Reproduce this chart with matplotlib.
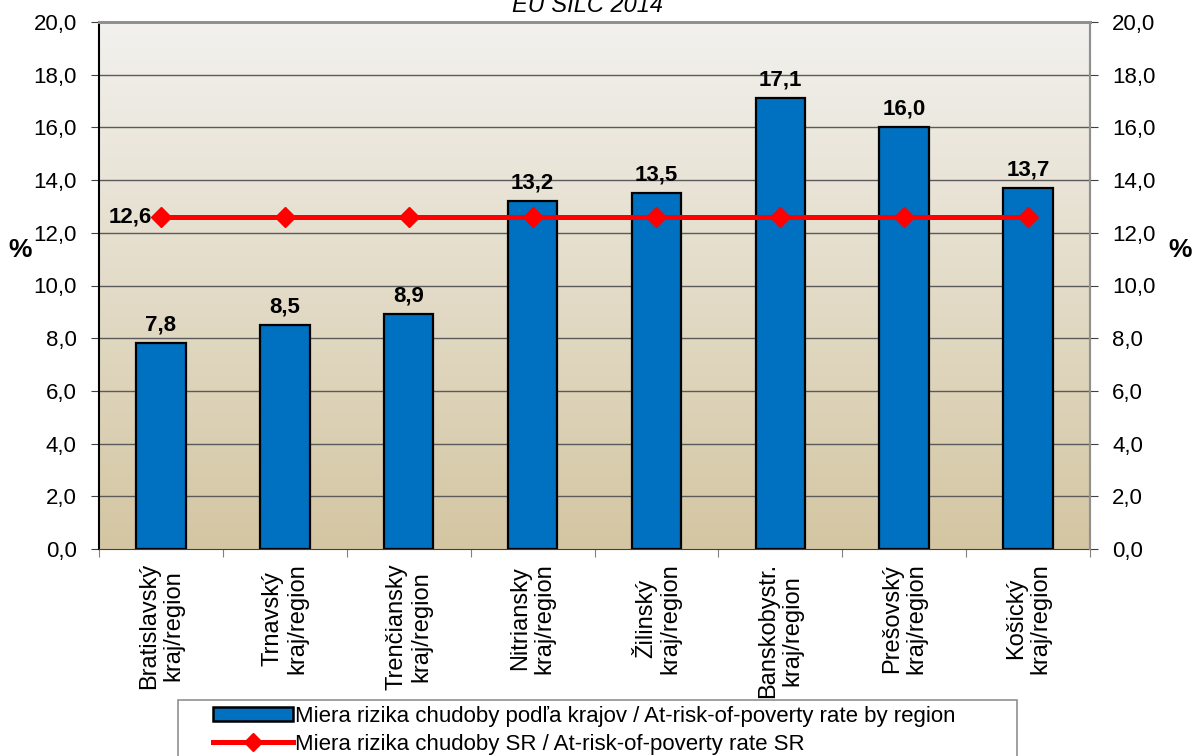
import matplotlib.pyplot as plt
import numpy as np
from matplotlib.patches import Patch, Rectangle
from matplotlib.lines import Line2D

plt.rcParams['font.family'] = ['Liberation Sans', 'DejaVu Sans']

regions = ["Bratislavský\nkraj/region", "Trnavský\nkraj/region", "Trenčiansky\nkraj/region",
           "Nitriansky\nkraj/region", "Žilinský\nkraj/region", "Banskobystr.\nkraj/region",
           "Prešovský\nkraj/region", "Košický\nkraj/region"]
rate_region = [7.8, 8.5, 8.9, 13.2, 13.5, 17.1, 16.0, 13.7]
rate_sr = [12.6, 12.6, 12.6, 12.6, 12.6, 12.6, 12.6, 12.6]
y_ticks = [0, 2, 4, 6, 8, 10, 12, 14, 16, 18, 20]

bar_label = "Miera rizika chudoby podľa krajov / At-risk-of-poverty rate by region"
line_label = "Miera rizika chudoby SR / At-risk-of-poverty rate SR"

fig = plt.figure(figsize=(11.94, 7.56), dpi=100)
ax = fig.add_axes([99 / 1194, 1 - 549 / 756, 991 / 1194, 527 / 756])

x = np.arange(len(regions))
ax.set_xlim(-0.5, len(regions) - 0.5)
ax.set_ylim(0, 20)

# gradient background
grad = np.linspace(0, 1, 256).reshape(-1, 1)
top = np.array([242, 241, 238]) / 255
bottom = np.array([212, 198, 162]) / 255
img = top + (bottom - top) * grad[:, :, None]
ax.imshow(img, extent=[-0.5, len(regions) - 0.5, 0, 20], aspect='auto', zorder=0)

for t in y_ticks[1:]:
    ax.axhline(t, color='#5a5a5a', linewidth=1, zorder=1)

ax.bar(x, rate_region, width=0.4, color='#0070C0', edgecolor='black', linewidth=1.6, zorder=2)
ax.plot(x, rate_sr, color='red', linewidth=3.6, marker='D', markersize=10, zorder=3)

for xi, v in zip(x, rate_region):
    ax.text(xi, v + 0.3, f"{v:.1f}".replace('.', ','), ha='center', va='bottom',
            fontsize=16, fontweight='bold')
ax.text(x[0] - 0.07, rate_sr[0], f"{rate_sr[0]:.1f}".replace('.', ','), ha='right', va='center',
        fontsize=16, fontweight='bold')

fmt = [f"{t:.1f}".replace('.', ',') for t in y_ticks]
ax.set_yticks(y_ticks)
ax.set_yticklabels(fmt, fontsize=16)
ax.set_xticks(np.arange(len(regions) + 1) - 0.5, minor=False)
ax.set_xticklabels([])
ax.set_xticks(x, minor=True)
ax.set_xticklabels(regions, minor=True, rotation=90, fontsize=17, ha='center', va='top',
                   multialignment='center', linespacing=1.15)
ax.tick_params(axis='x', which='minor', length=0, pad=10)
ax.tick_params(axis='x', which='major', length=6, color='#808080')
ax.tick_params(axis='y', length=6, color='#404040', pad=10)

ax2 = ax.twinx()
ax2.set_ylim(0, 20)
ax2.set_yticks(y_ticks)
ax2.set_yticklabels(fmt, fontsize=16)
ax2.tick_params(axis='y', length=6, color='#404040', pad=10)

ax.spines['left'].set_color('black')
ax.spines['left'].set_linewidth(1.5)
ax.spines['bottom'].set_color('#404040')
for a in (ax, ax2):
    a.spines['top'].set_color('#909090')
    a.spines['top'].set_linewidth(2)
    a.spines['right'].set_color('#909090')
    a.spines['right'].set_linewidth(1.5)
ax2.spines['left'].set_visible(False)
ax2.spines['bottom'].set_visible(False)

fig.text(20 / 1194, 1 - 250 / 756, "%", fontsize=19, fontweight='bold', ha='center', va='center')
fig.text(1180 / 1194, 1 - 250 / 756, "%", fontsize=19, fontweight='bold', ha='center', va='center')
# title sits partly above the top edge, as in the original image
fig.text(588 / 1194, 1 - 12 / 756, "EU SILC 2014", fontsize=17, style='italic',
         ha='center', va='baseline')

# legend
fig.patches.append(Rectangle((178 / 1194, -0.02), 839 / 1194, 71 / 756, transform=fig.transFigure,
                             facecolor='white', edgecolor='#909090', linewidth=1.2))
handles = [Patch(facecolor='#0070C0', edgecolor='black', linewidth=1.8),
           Line2D([], [], color='red', linewidth=3.6, marker='D', markersize=9)]
fig.legend(handles, [bar_label, line_label], loc='upper left',
           bbox_to_anchor=(213 / 1194, 1 - 706 / 756), frameon=False, fontsize=16,
           handlelength=3.6, handleheight=0.6, handletextpad=0.1, labelspacing=0.3,
           borderpad=0, borderaxespad=0)

fig.savefig("out.png", dpi=100)
